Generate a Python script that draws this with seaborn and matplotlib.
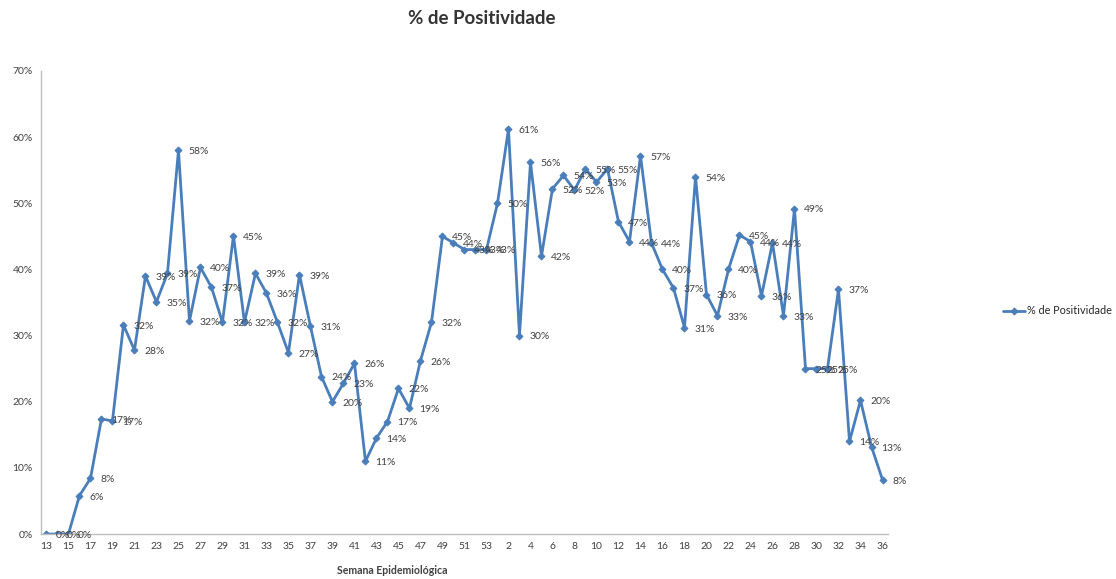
import pandas as pd
import matplotlib.pyplot as plt
import seaborn as sns

# semanas epidemiológicas (2020: 13-53, 2021: 1-36)
semanas = list(range(13, 54)) + list(range(1, 37))
positividade = [0.0, 0.0, 0.0, 0.058, 0.084, 0.174, 0.171, 0.316, 0.278, 0.39,
                0.351, 0.394, 0.58, 0.322, 0.403, 0.373, 0.32, 0.451, 0.32, 0.394,
                0.364, 0.32, 0.274, 0.392, 0.314, 0.238, 0.20, 0.228, 0.258, 0.11,
                0.145, 0.17, 0.22, 0.19, 0.262, 0.32, 0.45, 0.44, 0.43, 0.43,
                0.43, 0.50, 0.612, 0.30, 0.562, 0.42, 0.522, 0.542, 0.52, 0.552,
                0.532, 0.552, 0.472, 0.442, 0.572, 0.44, 0.40, 0.372, 0.312, 0.54,
                0.362, 0.33, 0.40, 0.452, 0.442, 0.36, 0.44, 0.33, 0.492, 0.25,
                0.25, 0.25, 0.37, 0.14, 0.202, 0.132, 0.082]
yticks = [0, 0.1, 0.2, 0.3, 0.4, 0.5, 0.6, 0.7]

df = pd.DataFrame({'pos': range(len(semanas)), 'semana': semanas, 'valor': positividade})

sns.set_style('white')
plt.rcParams['font.family'] = ['Lato', 'DejaVu Sans']

cor = '#4a7ebb'
fig = plt.figure(figsize=(11.16, 5.79), dpi=100)
ax = fig.add_axes([0.0367, 0.0777, 0.759, 0.7997])

sns.lineplot(data=df, x='pos', y='valor', ax=ax, color=cor, linewidth=2,
             marker='D', markersize=3.5, markeredgecolor=cor, label='% de Positividade')

# rótulos de dados
for _, r in df.iterrows():
    ax.annotate(f"{r['valor']:.0%}", (r['pos'], r['valor']), xytext=(7, -1),
                textcoords='offset points', fontsize=7.5, color='#404040', va='center')

ax.set_xlim(-0.5, len(semanas) - 0.5)
ax.set_ylim(0, 0.7)
ax.set_xticks(df['pos'][::2])
ax.set_xticklabels(df['semana'][::2], fontsize=7.5, color='#404040')
ax.set_yticks(yticks)
ax.set_yticklabels([f'{v:.0%}' for v in yticks], fontsize=7.5, color='#404040')
ax.tick_params(length=0, pad=6)
ax.set_xlabel('')
ax.set_ylabel('')
for s in ['top', 'right']:
    ax.spines[s].set_visible(False)
for s in ['left', 'bottom']:
    ax.spines[s].set_color('#bfbfbf')
    ax.spines[s].set_linewidth(1)

ax.legend(loc='center left', bbox_to_anchor=(0.89, 0.463), bbox_transform=fig.transFigure,
          frameon=False, fontsize=7.8, handlelength=2.0, handletextpad=0.2)

fig.text(482 / 1116, 1 - 19 / 579, '% de Positividade', ha='center', va='center',
         fontsize=13.5, fontweight='bold', color='#333333')
fig.text(392 / 1116, 1 - 571 / 579, 'Semana Epidemiológica', ha='center', va='center',
         fontsize=7.6, fontweight='bold', color='#404040')

fig.savefig('out.png', dpi=100)
